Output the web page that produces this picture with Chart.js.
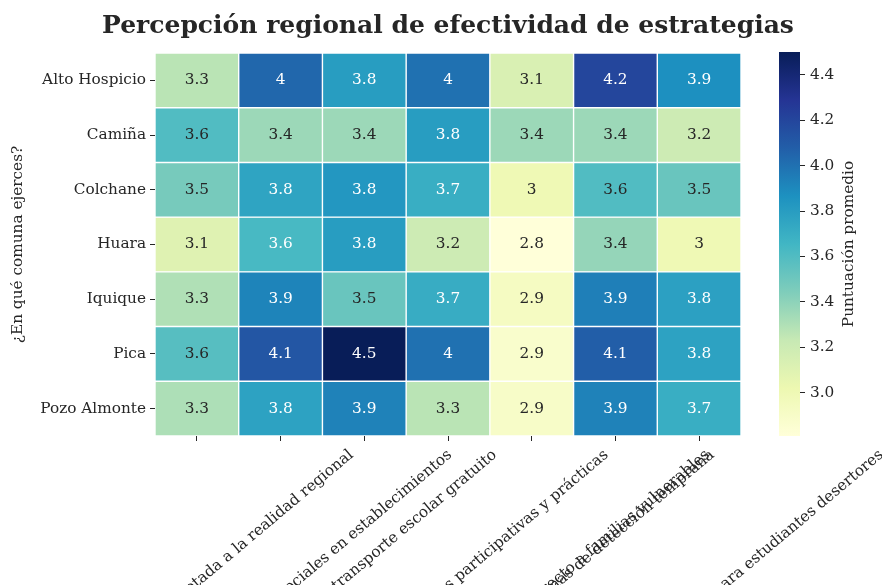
<!DOCTYPE html>
<html>
<head>
<meta charset="utf-8">
<script src="https://cdn.jsdelivr.net/npm/chart.js@4.4.1/dist/chart.umd.min.js"></script>
<style>
  html, body { margin: 0; padding: 0; background: #fff; }
  #wrap { position: relative; width: 882px; height: 585px; overflow: hidden; }
  #heat { position: absolute; left: 0; top: 0; }
  #cbar { position: absolute; left: 760px; top: 0; }
</style>
</head>
<body>
<div id="wrap">
  <canvas id="heat" width="882" height="585"></canvas>
  <canvas id="cbar" width="122" height="585"></canvas>
</div>
<script>
// rows of the heatmap
const comunas = ["Alto Hospicio", "Camiña", "Colchane", "Huara", "Iquique", "Pica", "Pozo Almonte"];

// columns (labels are cut off by the bottom edge in the original)
const estrategias = [
  "Educación flexible y adaptada a la realidad regional",
  "Incorporar más duplas psicosociales en establecimientos",
  "Mayor acceso al transporte escolar gratuito",
  "Aplicación de metodologías participativas y prácticas",
  "Entrega de apoyo económico directo a familias vulnerables",
  "Sistemas de detección temprana",
  "Programa de reinserción escolar para estudiantes desertores",
];

// average score per comuna, one value per strategy
const altoHospicio = [3.27, 4.04, 3.80, 4.00, 3.13, 4.20, 3.87];
const camina       = [3.60, 3.36, 3.36, 3.80, 3.36, 3.36, 3.20];
const colchane     = [3.47, 3.76, 3.83, 3.70, 3.00, 3.60, 3.52];
const huara        = [3.10, 3.63, 3.80, 3.20, 2.81, 3.38, 3.00];
const iquique      = [3.30, 3.92, 3.52, 3.71, 2.93, 3.94, 3.78];
const pica         = [3.58, 4.12, 4.50, 4.00, 2.88, 4.08, 3.77];
const pozoAlmonte  = [3.31, 3.77, 3.93, 3.27, 2.90, 3.93, 3.70];

const scores = [altoHospicio, camina, colchane, huara, iquique, pica, pozoAlmonte];

const cbarTicks = [3.0, 3.2, 3.4, 3.6, 3.8, 4.0, 4.2, 4.4];

const TITLE = "Percepción regional de efectividad de estrategias";
const Y_TITLE = "¿En qué comuna ejerces?";
const CBAR_TITLE = "Puntuación promedio";

const FONT = '"DejaVu Serif", serif';
const TICK_SIZE = 15.3;
const TEXT_COLOR = "#262626";

const allValues = scores.flat();
const vmin = Math.min(...allValues);
const vmax = Math.max(...allValues);

// YlGnBu, the 9 ColorBrewer stops matplotlib interpolates between
const YLGNBU = [
  [255, 255, 217], [237, 248, 177], [199, 233, 180], [127, 205, 187], [65, 182, 196],
  [29, 145, 192], [34, 94, 168], [37, 52, 148], [8, 29, 88],
];

function cmap(t) {
  t = Math.max(0, Math.min(1, t));
  const p = t * (YLGNBU.length - 1);
  const i = Math.min(YLGNBU.length - 2, Math.floor(p));
  const f = p - i;
  return YLGNBU[i].map((v, k) => v + (YLGNBU[i + 1][k] - v) * f);
}

function rgb(c) {
  return `rgb(${c.map(Math.round).join(",")})`;
}

// same rule seaborn uses to pick the annotation colour
function luminance(c) {
  const lin = c.map(v => {
    v = v / 255;
    return v <= 0.03928 ? v / 12.92 : Math.pow((v + 0.055) / 1.055, 2.4);
  });
  return 0.2126 * lin[0] + 0.7152 * lin[1] + 0.0722 * lin[2];
}

function colorFor(v) {
  return cmap((v - vmin) / (vmax - vmin));
}

// like python's '.2g'
function fmt(v) {
  return String(parseFloat(v.toPrecision(2)));
}

const datasets = comunas.map((name, r) => ({
  label: name,
  data: scores[r].map(() => [r - 0.5, r + 0.5]),
  backgroundColor: scores[r].map(v => rgb(colorFor(v))),
  borderColor: "#ffffff",
  borderWidth: 0.7,
  borderSkipped: false,
  inflateAmount: 0,
  grouped: false,
  barPercentage: 1,
  categoryPercentage: 1,
}));

const heatPlugin = {
  id: "heatText",
  afterDatasetsDraw(chart) {
    const { ctx } = chart;
    ctx.save();
    ctx.font = `${TICK_SIZE}px ${FONT}`;
    ctx.textAlign = "center";
    ctx.textBaseline = "middle";
    chart.data.datasets.forEach((ds, r) => {
      const meta = chart.getDatasetMeta(r);
      meta.data.forEach((bar, c) => {
        const v = scores[r][c];
        const { x, y } = bar.getCenterPoint();
        ctx.fillStyle = luminance(colorFor(v)) > 0.408 ? TEXT_COLOR : "#ffffff";
        ctx.fillText(fmt(v), x, y);
      });
    });
    ctx.restore();
  },
  afterDraw(chart) {
    const { ctx, chartArea } = chart;
    const xScale = chart.scales.x;

    // title
    ctx.save();
    ctx.font = `bold 25px ${FONT}`;
    ctx.fillStyle = TEXT_COLOR;
    ctx.textAlign = "center";
    ctx.textBaseline = "alphabetic";
    ctx.fillText(TITLE, (chartArea.left + chartArea.right) / 2, 32.5);
    ctx.restore();

    // x tick labels, rotated 40deg and centred on the tick like matplotlib
    const rot = 40 * Math.PI / 180;
    const H = TICK_SIZE * 1.2;
    const top = chartArea.bottom + 5 + 5;
    ctx.save();
    ctx.font = `${TICK_SIZE}px ${FONT}`;
    ctx.fillStyle = TEXT_COLOR;
    ctx.textAlign = "center";
    ctx.textBaseline = "middle";
    estrategias.forEach((label, i) => {
      const x = xScale.getPixelForValue(i);
      const W = ctx.measureText(label).width;
      const bh = W * Math.sin(rot) + H * Math.cos(rot);
      ctx.save();
      ctx.translate(x, top + bh / 2);
      ctx.rotate(-rot);
      ctx.fillText(label, 0, 0);
      ctx.restore();
    });
    ctx.restore();
  },
};

new Chart(document.getElementById("heat"), {
  type: "bar",
  data: { labels: estrategias, datasets },
  options: {
    responsive: false,
    animation: false,
    events: [],
    layout: { padding: { top: 53, right: 141, left: 0, bottom: 0 } },
    plugins: { legend: { display: false }, tooltip: { enabled: false }, title: { display: false } },
    scales: {
      x: {
        type: "category",
        offset: true,
        border: { display: false },
        grid: { display: true, drawOnChartArea: false, drawTicks: true, tickLength: 5, offset: false, tickColor: TEXT_COLOR, tickWidth: 1 },
        ticks: { display: false },
        afterFit(scale) { scale.height = 149; },
      },
      y: {
        type: "linear",
        reverse: true,
        min: -0.5,
        max: 6.5,
        border: { display: false },
        grid: { display: true, drawOnChartArea: false, drawTicks: true, tickLength: 5, tickColor: TEXT_COLOR, tickWidth: 1 },
        afterBuildTicks(scale) { scale.ticks = comunas.map((_, i) => ({ value: i })); },
        ticks: {
          padding: 4,
          color: TEXT_COLOR,
          font: { family: FONT, size: TICK_SIZE },
          callback: v => comunas[v],
        },
        title: {
          display: true,
          text: Y_TITLE,
          color: TEXT_COLOR,
          font: { family: FONT, size: TICK_SIZE },
          padding: { top: 9, bottom: 0 },
        },
        afterFit(scale) { scale.width = 155; },
      },
    },
  },
  plugins: [heatPlugin],
});

// colour bar: one floating bar from vmin to vmax filled with the colormap
const cbarPlugin = {
  id: "cbarTitle",
  afterDraw(chart) {
    const { ctx, chartArea } = chart;
    ctx.save();
    ctx.font = `${TICK_SIZE}px ${FONT}`;
    ctx.fillStyle = TEXT_COLOR;
    ctx.textAlign = "center";
    ctx.textBaseline = "middle";
    ctx.translate(89, (chartArea.top + chartArea.bottom) / 2);
    ctx.rotate(-Math.PI / 2);
    ctx.fillText(CBAR_TITLE, 0, 0);
    ctx.restore();
  },
};

new Chart(document.getElementById("cbar"), {
  type: "bar",
  data: {
    labels: ["cbar"],
    datasets: [{
      data: [[vmin, vmax]],
      backgroundColor(context) {
        const { chart } = context;
        const { chartArea, scales } = chart;
        if (!chartArea) return null;
        const y0 = scales.y.getPixelForValue(vmin);
        const y1 = scales.y.getPixelForValue(vmax);
        const g = chart.ctx.createLinearGradient(0, y0, 0, y1);
        YLGNBU.forEach((c, i) => g.addColorStop(i / (YLGNBU.length - 1), rgb(c)));
        return g;
      },
      borderWidth: 0,
      inflateAmount: 0,
      barPercentage: 1,
      categoryPercentage: 1,
    }],
  },
  options: {
    responsive: false,
    animation: false,
    events: [],
    layout: { padding: { top: 52, left: 19, right: 0, bottom: 149 } },
    plugins: { legend: { display: false }, tooltip: { enabled: false } },
    scales: {
      x: { display: false },
      y: {
        position: "right",
        min: vmin,
        max: vmax,
        border: { display: false },
        grid: { display: true, drawOnChartArea: false, drawTicks: true, tickLength: 5, tickColor: TEXT_COLOR, tickWidth: 1 },
        afterBuildTicks(scale) { scale.ticks = cbarTicks.map(v => ({ value: v })); },
        ticks: {
          padding: 5,
          color: TEXT_COLOR,
          font: { family: FONT, size: TICK_SIZE },
          callback: v => v.toFixed(1),
        },
        afterFit(scale) { scale.width = 82; },
      },
    },
  },
  plugins: [cbarPlugin],
});
</script>
</body>
</html>
